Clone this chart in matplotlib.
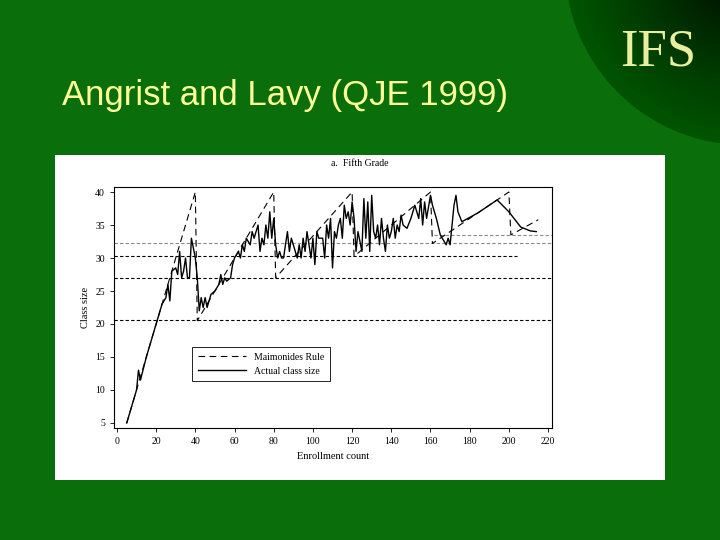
import matplotlib.pyplot as plt
from matplotlib.patches import Ellipse, Rectangle

# Maimonides rule (kinks of the dashed line)
rule_x = [5, 40, 41, 80, 81, 120, 121, 160, 161, 200, 201, 215]
rule_y = [5, 40, 20.5, 40, 27, 40, 30.25, 40, 32.2, 40, 33.5, 35.8]

# actual class size
act_x = [5, 8, 10, 11, 12, 15, 20, 23, 25, 26, 27, 28, 30, 31, 32, 33, 34, 35, 36, 37, 38, 40,
         41, 42, 43, 44, 45, 46, 48, 50, 52, 53, 54, 55, 56, 58, 59, 60, 62, 63, 64, 65, 66, 68,
         69, 70, 72, 73, 74, 75, 76, 77, 78, 79, 80, 81, 82, 83, 84, 85, 87, 88, 89, 90, 91, 92,
         93, 94, 95, 96, 97, 98, 99, 100, 101, 102, 103, 105, 106, 107, 108, 109, 110, 111, 112,
         113, 114, 115, 116, 117, 118, 119, 120, 121, 122, 123, 125, 126, 127, 128, 129, 130, 131,
         132, 133, 134, 135, 136, 137, 138, 139, 140, 141, 142, 143, 144, 145, 146, 148, 150, 152,
         154, 155, 156, 157, 158, 160, 161, 163, 165, 168, 169, 170, 172, 173, 174, 176, 184, 194,
         200, 206, 211, 214]
act_y = [5, 8, 10, 13, 11.5, 15, 20, 23, 24, 26, 23.5, 28, 28.5, 27.5, 31, 27, 28, 30, 27, 27, 33, 30,
         27, 22, 24, 22.5, 24, 22.5, 24.5, 25, 26, 27.5, 26, 27, 26.5, 27, 29, 30, 31, 30, 32, 31, 33, 32,
         34, 33, 35, 31, 33, 32, 35, 33, 37, 33, 36, 32, 30, 31, 30, 30, 34, 31, 33, 32, 31, 30,
         32, 30, 33, 31, 34, 32, 30, 33, 29, 34, 33, 33, 30, 35, 33, 36, 28.5, 34, 33,
         35, 36, 33, 38, 36, 37, 35, 38.5, 36, 31, 34, 31, 39, 33, 38.5, 31, 39.5, 34,
         33, 35, 32, 36, 33, 31, 35, 33, 34, 36, 33, 35, 34, 36.5, 35, 34.5, 36, 38,
         36, 39, 35, 38.5, 36, 39.5, 38, 36, 33.5, 32, 33, 32, 38, 39.5, 37, 35.5, 36.8, 38.8,
         37, 34.7, 34.1, 34]

# horizontal reference lines: (y, x start, x end, colour)
hlines = [(20.6, -1.5, 222, 'black'), (26.9, -1.5, 222, 'black'), (30.3, -1.5, 204, 'black'),
          (32.25, -1.5, 222, '#888888'), (33.5, 162, 222, '#888888')]

bg = '#0a6e0a'
fig = plt.figure(figsize=(7.2, 5.4), dpi=100, facecolor=bg)

# dark corner with logo (circle centre at 745,-35 px, radius 180 px)
n = 40
for i in range(n):
    r = 180 * (1 - i / n)
    t = i / (n - 1)
    shade = (0, 0.33 * (1 - t) ** 0.8, 0)
    fig.patches.append(Ellipse((745 / 720, 1 + 35 / 540), 2 * r / 720, 2 * r / 540,
                               transform=fig.transFigure, facecolor=shade, edgecolor='none', zorder=0))
fig.text(658 / 720, 1 - 52 / 540, 'IFS', family='Liberation Serif', fontsize=38, color='#e8f0a0',
         ha='center', va='center')
fig.text(62 / 720, 1 - 95 / 540, 'Angrist and Lavy (QJE 1999)', family='Liberation Sans',
         fontsize=25, color='#ffff99', va='center')

# white panel of the scanned figure
fig.patches.append(Rectangle((55 / 720, 1 - 480 / 540), 610 / 720, 325 / 540,
                             transform=fig.transFigure, facecolor='white', edgecolor='none', zorder=1))
fig.text(360 / 720, 1 - 163 / 540, 'a.  Fifth Grade', family='Liberation Serif', fontsize=7,
         ha='center', va='center', zorder=3)

ax = fig.add_axes([114 / 720, 1 - 428 / 540, 438 / 720, 241 / 540], zorder=2)
ax.set_facecolor('white')
for y, x0, x1, c in hlines:
    ax.plot([x0, x1], [y, y], ls=(0, (3, 2)), lw=0.8, color=c)
ax.plot(rule_x, rule_y, ls=(0, (6, 4)), lw=0.8, color='black', label='Maimonides Rule')
ax.plot(act_x, act_y, lw=1.0, color='black', label='Actual class size')
ax.set_xlim(-1.5, 222)
ax.set_ylim(4.24, 40.76)
ax.set_xticks(range(0, 221, 20))
ax.set_yticks(range(5, 41, 5))
ax.tick_params(labelsize=7, length=3, width=0.6)
for lab in ax.get_xticklabels() + ax.get_yticklabels():
    lab.set_family('Liberation Serif')
for s in ax.spines.values():
    s.set_linewidth(0.8)
ax.set_xlabel('Enrollment count', family='Liberation Serif', fontsize=7.5)
ax.set_ylabel('Class size', family='Liberation Serif', fontsize=7.5)
leg = ax.legend(loc='upper left', bbox_to_anchor=(0.167, 0.357), fancybox=False,
                edgecolor='black', framealpha=1, prop={'family': 'Liberation Serif', 'size': 7},
                handlelength=5, borderpad=0.6)
leg.get_frame().set_linewidth(0.6)

fig.savefig('out.png', dpi=100, facecolor=bg)
